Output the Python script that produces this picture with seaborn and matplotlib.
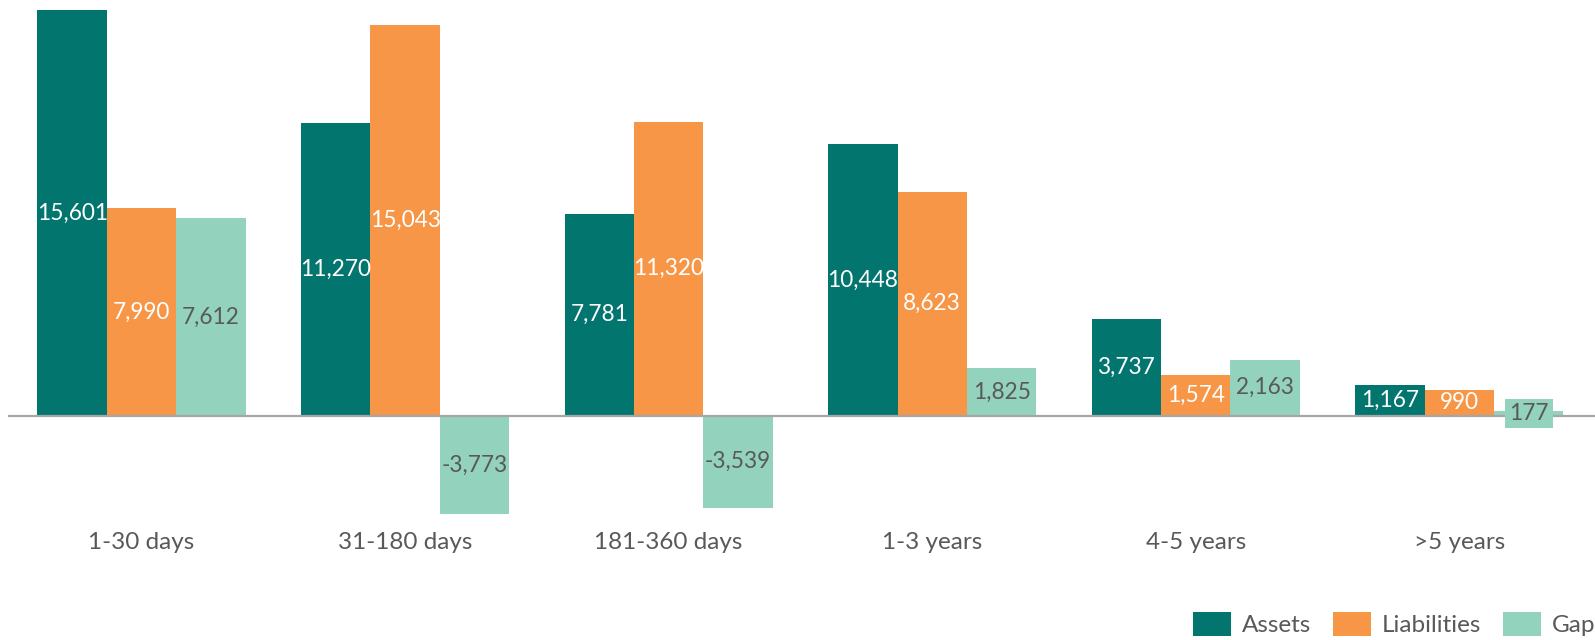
import matplotlib
matplotlib.use("Agg")
import matplotlib.pyplot as plt
import seaborn as sns
import pandas as pd

categories = ["1-30 days", "31-180 days", "181-360 days", "1-3 years", "4-5 years", ">5 years"]
assets = [15601, 11270, 7781, 10448, 3737, 1167]
liabilities = [7990, 15043, 11320, 8623, 1574, 990]
gap = [7612, -3773, -3539, 1825, 2163, 177]
series = ["Assets", "Liabilities", "Gap"]
colors = ["#02756F", "#F79646", "#93D2BD"]
label_colors = ["white", "white", "#595959"]

sns.set_theme(style="white")
plt.rcParams["font.family"] = ["Lato", "DejaVu Sans"]

rows = []
for s, vals in zip(series, [assets, liabilities, gap]):
    for c, v in zip(categories, vals):
        rows.append({"category": c, "series": s, "value": v})
df = pd.DataFrame(rows)

fig = plt.figure(figsize=(15.95, 6.4), dpi=100)
ax = fig.add_axes([0.005, 0.197, 0.995, 0.787])

sns.barplot(data=df, x="category", y="value", hue="series", order=categories,
            hue_order=series, palette=colors, width=0.79, gap=0, linewidth=0,
            saturation=1, ax=ax, legend=True, errorbar=None)

ax.set_ylim(-3773, 15601)
ax.set_xlim(-0.507, 5.515)
ax.axhline(0, color="#A6A6A6", lw=1.6, zorder=5)
for sp in ax.spines.values():
    sp.set_visible(False)
ax.set_yticks([])
ax.set_xlabel("")
ax.set_ylabel("")
ax.tick_params(axis="x", length=0, pad=13, labelsize=17.5, labelcolor="#595959")

for i, cont in enumerate(ax.containers):
    labels = [f"{v:,.0f}" for v in cont.datavalues]
    texts = ax.bar_label(cont, labels=labels, label_type="center",
                         color=label_colors[i], fontsize=16.3, zorder=6)
    if series[i] == "Gap":
        for t, v in zip(texts, cont.datavalues):
            if abs(v) < 500:
                t.set_bbox(dict(facecolor=colors[2], edgecolor="none", pad=3))

handles, lbls = ax.get_legend_handles_labels()
ax.get_legend().remove()
fig.legend(handles, lbls, loc="center left", bbox_to_anchor=(1193 / 1595, 1 - 624 / 640),
           ncol=3, frameon=False, fontsize=17.5, labelcolor="#595959",
           handlelength=1.56, handleheight=1.15, handletextpad=0.45,
           columnspacing=0.9, borderpad=0, borderaxespad=0)

fig.savefig("out.png", dpi=100)
